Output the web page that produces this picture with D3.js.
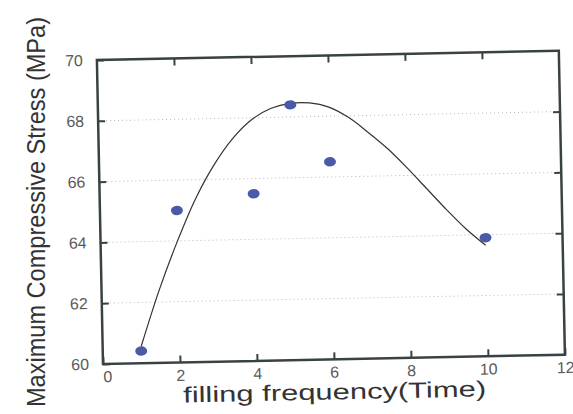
<!DOCTYPE html>
<html>
<head>
<meta charset="utf-8">
<script src="https://cdnjs.cloudflare.com/ajax/libs/d3/7.8.5/d3.min.js"></script>
<style>
  body { margin: 0; background: #fff; }
  text { font-family: "Liberation Sans", Arial, sans-serif; }
</style>
</head>
<body>
<div class="chart"></div>
<script>
// measured points
var freq = [1, 2, 4, 5, 6, 10];
var stress = [60.4, 65.0, 65.5, 68.4, 66.5, 63.9];

// fitted curve
var fitX = [1, 1.5, 2, 2.5, 3, 3.5, 4, 4.5, 5, 5.5, 6, 6.5, 7, 7.5, 8, 8.5, 9, 9.5, 10];
var fitY = [60.55, 62.4, 64.0, 65.4, 66.5, 67.35, 67.95, 68.3, 68.45, 68.45, 68.3, 67.95, 67.45, 66.9, 66.25, 65.55, 64.85, 64.2, 63.65];

var xTicks = [0, 2, 4, 6, 8, 10, 12];
var yTicks = [60, 62, 64, 66, 68, 70];

var W = 573, H = 414;
var pLeft = 103, pRight = 565, pTop = 60, pBottom = 364;

var svg = d3.select(".chart").append("svg")
  .attr("width", W)
  .attr("height", H);

// scanned figure is tilted a little
var g = svg.append("g")
  .attr("transform", "rotate(-1.15," + pLeft + "," + pBottom + ")");

var x = d3.scaleLinear().domain([0, 12]).range([pLeft, pRight]);
var y = d3.scaleLinear().domain([60, 70]).range([pBottom, pTop]);

// grid lines
g.selectAll(".grid")
  .data(yTicks.slice(1, -1))
  .enter().append("line")
    .attr("x1", pLeft)
    .attr("x2", pRight)
    .attr("y1", function(d) { return y(d); })
    .attr("y2", function(d) { return y(d); })
    .attr("stroke", "#b8b8b8")
    .attr("stroke-width", 1)
    .attr("stroke-dasharray", "1,3");

// axes, ticks inward
var axisColor = "#394242";
function styleAxis(sel) {
  sel.select(".domain").remove();
  sel.selectAll("line").attr("stroke", axisColor).attr("stroke-width", 2);
  sel.selectAll("text").attr("fill", "#5a5a5a").attr("font-size", "16px").attr("font-family", "Liberation Sans, Arial, sans-serif");
}

g.append("g")
  .attr("transform", "translate(0," + pBottom + ")")
  .call(d3.axisBottom(x).tickValues(xTicks).tickSize(-7).tickPadding(7))
  .call(styleAxis)
  .selectAll(".tick")
    .filter(function(d) { return d == 0; })
    .select("text").attr("dx", 4);

g.append("g")
  .attr("transform", "translate(0," + pTop + ")")
  .call(d3.axisTop(x).tickValues(xTicks.slice(1, -1)).tickSize(-7).tickFormat(""))
  .call(styleAxis);

g.append("g")
  .attr("transform", "translate(" + pLeft + ",0)")
  .call(d3.axisLeft(y).tickValues(yTicks).tickSize(-7).tickPadding(14))
  .call(styleAxis);

g.append("g")
  .attr("transform", "translate(" + pRight + ",0)")
  .call(d3.axisRight(y).tickValues(yTicks.slice(1, -1)).tickSize(-7).tickFormat(""))
  .call(styleAxis);

// frame
g.append("rect")
  .attr("x", pLeft)
  .attr("y", pTop)
  .attr("width", pRight - pLeft)
  .attr("height", pBottom - pTop)
  .attr("fill", "none")
  .attr("stroke", axisColor)
  .attr("stroke-width", 2.5);

// fit curve
var line = d3.line()
  .x(function(d, i) { return x(fitX[i]); })
  .y(function(d) { return y(d); })
  .curve(d3.curveCatmullRom);

g.append("path")
  .datum(fitY)
  .attr("d", line)
  .attr("fill", "none")
  .attr("stroke", "#333")
  .attr("stroke-width", 1.2);

// points
g.selectAll(".dot")
  .data(stress)
  .enter().append("ellipse")
    .attr("cx", function(d, i) { return x(freq[i]); })
    .attr("cy", function(d) { return y(d); })
    .attr("rx", 6)
    .attr("ry", 4.7)
    .attr("fill", "#4a59a8");

// x label
g.append("text")
  .attr("x", 334)
  .attr("y", 404)
  .attr("text-anchor", "middle")
  .attr("font-size", "22px")
  .attr("fill", "#333")
  .attr("textLength", 303)
  .attr("lengthAdjust", "spacingAndGlyphs")
  .text("filling frequency(Time)");

// y label
svg.append("text")
  .attr("transform", "translate(45,212) rotate(-90)")
  .attr("text-anchor", "middle")
  .attr("font-size", "26px")
  .attr("fill", "#333")
  .attr("textLength", 390)
  .attr("lengthAdjust", "spacingAndGlyphs")
  .text("Maximum Compressive Stress (MPa)");
</script>
</body>
</html>
